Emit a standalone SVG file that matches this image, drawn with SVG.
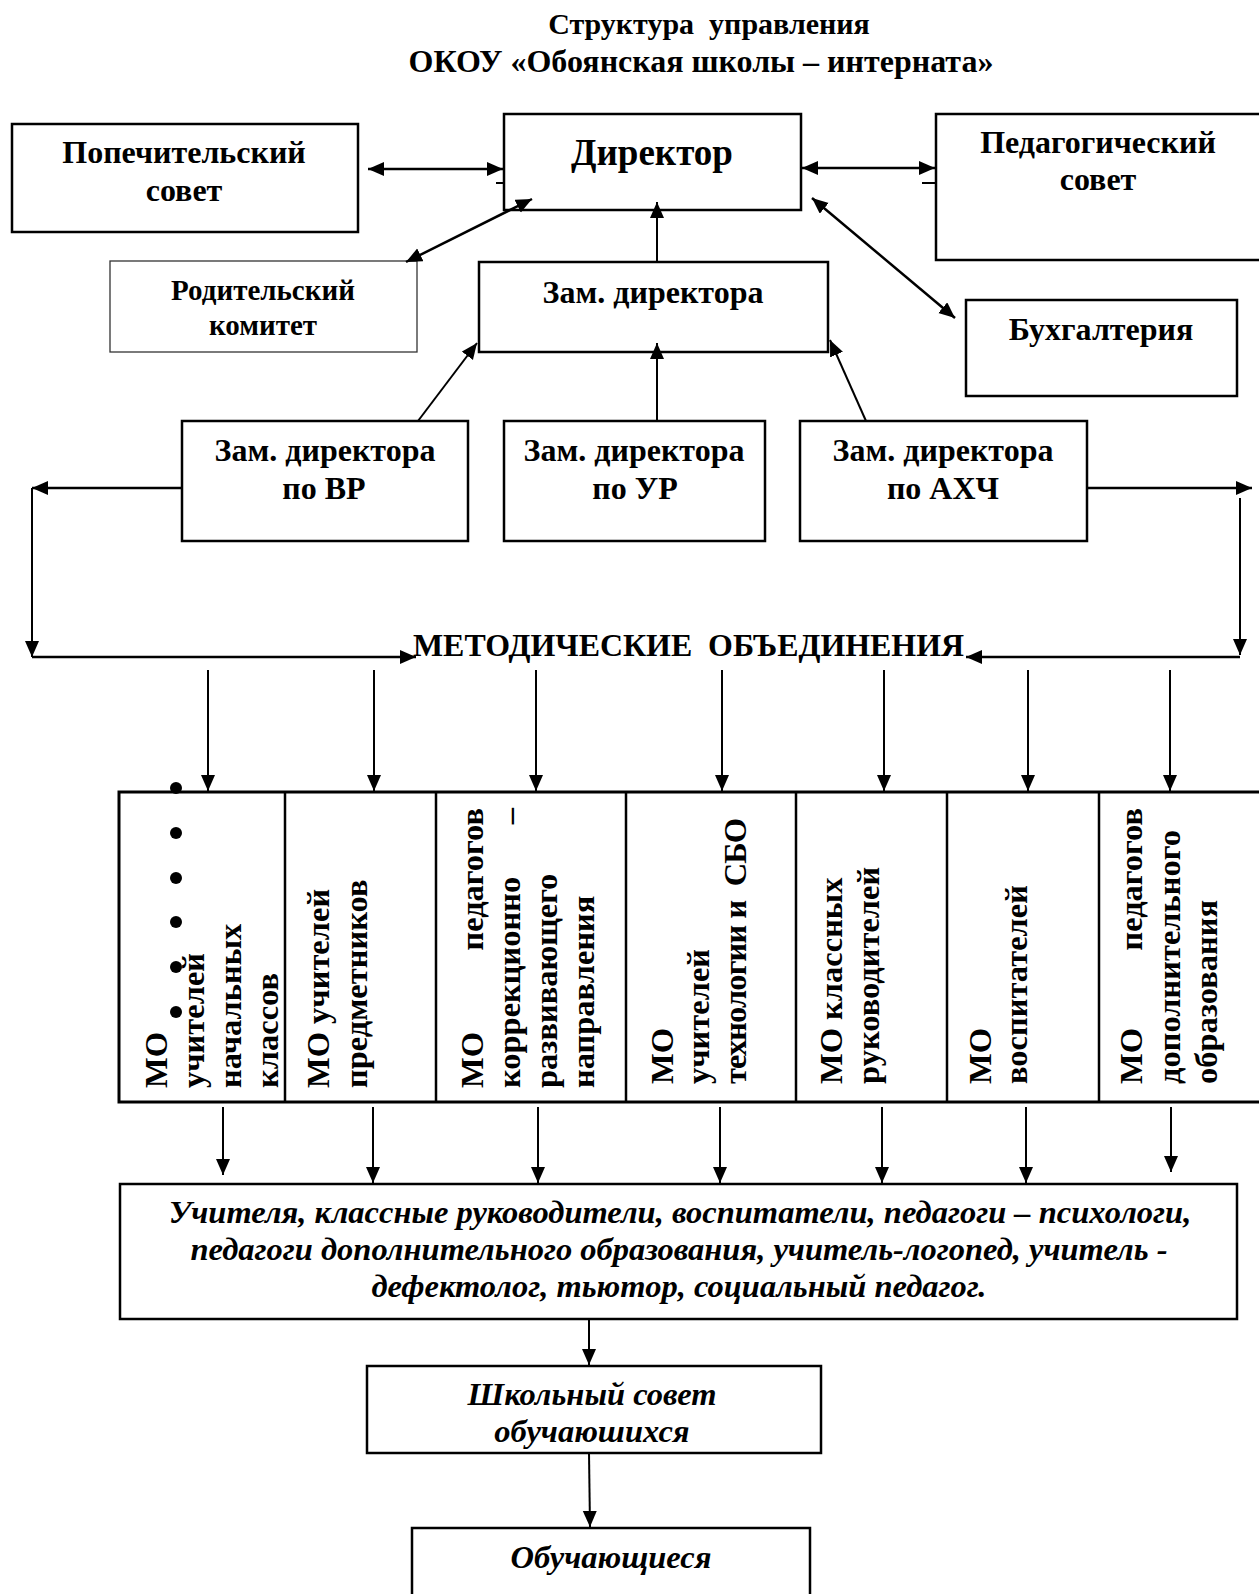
<svg xmlns="http://www.w3.org/2000/svg" width="1259" height="1594" viewBox="0 0 1259 1594">
<style>
.box{fill:#fff;stroke:#000;stroke-width:2.5}
.thin{fill:#fff;stroke:#333;stroke-width:1.3}
.t{font-family:"Liberation Serif","Times New Roman",serif;font-weight:bold;font-size:32px;fill:#000;text-anchor:middle}
.ti{font-family:"Liberation Serif","Times New Roman",serif;font-weight:bold;font-style:italic;font-size:32.5px;fill:#000;text-anchor:middle}
.mo{font-family:"Liberation Serif","Times New Roman",serif;font-weight:bold;font-size:32.5px;fill:#000}
.end{text-anchor:end}
.pre{white-space:pre}
.c{fill:none;stroke:#000;stroke-width:2.5}
.c2{fill:none;stroke:#000;stroke-width:2}
.a{marker-end:url(#ah)}
.aa{marker-start:url(#ah);marker-end:url(#ah)}
</style>
<defs>
<marker id="ah" markerUnits="userSpaceOnUse" markerWidth="17" markerHeight="15" refX="16" refY="7" orient="auto-start-reverse" viewBox="0 0 17 15">
<path d="M0,0 L16,7 L0,14 z" fill="#000"/>
</marker>
</defs>
<rect width="1259" height="1594" fill="#fff"/>

<g id="title">
<text class="t pre" xml:space="preserve" x="709" y="34" style="font-size:30px">Структура  управления</text>
<text class="t" x="701" y="72">ОКОУ «Обоянская школы – интерната»</text>
</g>

<g id="popechitelsky">
<rect class="box" x="12" y="124" width="346" height="108"/>
<text class="t" x="184" y="163">Попечительский</text>
<text class="t" x="184" y="201">совет</text>
</g>

<g id="direktor">
<rect class="box" x="504" y="114" width="297" height="96"/>
<text class="t" x="652" y="165" style="font-size:37px">Директор</text>
</g>

<g id="pedsovet">
<rect class="box" x="936" y="114" width="330" height="146"/>
<text class="t" x="1098" y="153">Педагогический</text>
<text class="t" x="1098" y="190">совет</text>
</g>

<g id="roditelsky">
<rect class="thin" x="110" y="261" width="307" height="91"/>
<text class="t" x="263" y="300" style="font-size:29px">Родительский</text>
<text class="t" x="263" y="335" style="font-size:29px">комитет</text>
</g>

<g id="zam">
<rect class="box" x="479" y="262" width="349" height="90"/>
<text class="t" x="653" y="303">Зам. директора</text>
</g>

<g id="buh">
<rect class="box" x="966" y="300" width="271" height="96"/>
<text class="t" x="1101" y="340">Бухгалтерия</text>
</g>

<g id="zam-vr">
<rect class="box" x="182" y="421" width="286" height="120"/>
<text class="t" x="325" y="461">Зам. директора</text>
<text class="t" x="324" y="499">по ВР</text>
</g>

<g id="zam-ur">
<rect class="box" x="504" y="421" width="261" height="120"/>
<text class="t" x="634" y="461">Зам. директора</text>
<text class="t" x="635" y="499">по УР</text>
</g>

<g id="zam-ahch">
<rect class="box" x="800" y="421" width="287" height="120"/>
<text class="t" x="943" y="461">Зам. директора</text>
<text class="t" x="943" y="499">по АХЧ</text>
</g>

<g id="mo-label">
<text class="t pre" xml:space="preserve" x="413" y="656" style="text-anchor:start" textLength="551" lengthAdjust="spacingAndGlyphs">МЕТОДИЧЕСКИЕ  ОБЪЕДИНЕНИЯ</text>
</g>

<g id="mo-table">
<rect x="119" y="792" width="1145" height="310" fill="#fff" stroke="#000" stroke-width="3"/>
<g stroke="#000" stroke-width="2.5">
<line x1="285" y1="792" x2="285" y2="1102"/>
<line x1="436" y1="792" x2="436" y2="1102"/>
<line x1="626" y1="792" x2="626" y2="1102"/>
<line x1="796" y1="792" x2="796" y2="1102"/>
<line x1="947" y1="792" x2="947" y2="1102"/>
<line x1="1099" y1="792" x2="1099" y2="1102"/>
</g>
</g>

<g id="mo1">
<text class="mo" transform="translate(167,1088) rotate(-90)">МО</text>
<text class="mo" transform="translate(204,1088) rotate(-90)">учителей</text>
<text class="mo" transform="translate(241,1088) rotate(-90)">начальных</text>
<text class="mo" transform="translate(278,1088) rotate(-90)">классов</text>
<g fill="#000">
<circle cx="176" cy="788" r="6"/>
<circle cx="176" cy="833" r="6"/>
<circle cx="176" cy="878" r="6"/>
<circle cx="176" cy="922" r="6"/>
<circle cx="176" cy="967" r="6"/>
<circle cx="176" cy="1012" r="6"/>
</g>
</g>

<g id="mo2">
<text class="mo" transform="translate(329,1088) rotate(-90)">МО учителей</text>
<text class="mo" transform="translate(367,1088) rotate(-90)">предметников</text>
</g>

<g id="mo3">
<text class="mo" transform="translate(483,1088) rotate(-90)">МО</text>
<text class="mo end" transform="translate(483,808) rotate(-90)">педагогов</text>
<text class="mo" transform="translate(520,1088) rotate(-90)">коррекционно</text>
<text class="mo end" transform="translate(520,808) rotate(-90)">–</text>
<text class="mo" transform="translate(557,1088) rotate(-90)">развивающего</text>
<text class="mo" transform="translate(594,1088) rotate(-90)">направления</text>
</g>

<g id="mo4">
<text class="mo" transform="translate(673,1084) rotate(-90)">МО</text>
<text class="mo" transform="translate(709,1084) rotate(-90)">учителей</text>
<text class="mo pre" xml:space="preserve" transform="translate(746,1084) rotate(-90)" textLength="266" lengthAdjust="spacing">технологии и  СБО</text>
</g>

<g id="mo5">
<text class="mo" transform="translate(842,1084) rotate(-90)">МО классных</text>
<text class="mo" transform="translate(879,1084) rotate(-90)">руководителей</text>
</g>

<g id="mo6">
<text class="mo" transform="translate(991,1084) rotate(-90)">МО</text>
<text class="mo" transform="translate(1027,1084) rotate(-90)">воспитателей</text>
</g>

<g id="mo7">
<text class="mo" transform="translate(1142,1084) rotate(-90)">МО</text>
<text class="mo end" transform="translate(1142,808) rotate(-90)">педагогов</text>
<text class="mo" transform="translate(1180,1084) rotate(-90)">дополнительного</text>
<text class="mo" transform="translate(1217,1084) rotate(-90)">образования</text>
</g>

<g id="teachers">
<rect class="box" x="120" y="1184" width="1117" height="135"/>
<text class="ti" x="680" y="1223">Учителя, классные руководители, воспитатели, педагоги – психологи,</text>
<text class="ti" x="679" y="1260">педагоги дополнительного образования, учитель-логопед, учитель -</text>
<text class="ti" x="679" y="1297">дефектолог, тьютор, социальный педагог.</text>
</g>

<g id="sovet-uch">
<rect class="box" x="367" y="1366" width="454" height="87"/>
<text class="ti" x="592" y="1405">Школьный совет</text>
<text class="ti" x="592" y="1442">обучаюшихся</text>
</g>

<g id="obuch">
<rect class="box" x="412" y="1528" width="398" height="80"/>
<text class="ti" x="611" y="1568">Обучающиеся</text>
</g>

<g id="connectors">
<line class="c aa" x1="368" y1="169" x2="503" y2="169"/>
<line class="c2" x1="496" y1="183" x2="504" y2="183"/>
<line class="c aa" x1="802" y1="168" x2="935" y2="168"/>
<line class="c2" x1="922" y1="183" x2="936" y2="183"/>
<line class="c aa" x1="406" y1="262" x2="532" y2="199"/>
<line class="c aa" x1="812" y1="198" x2="955" y2="318"/>
<line class="c2 a" x1="657" y1="262" x2="657" y2="202"/>
<line class="c2 a" x1="418" y1="421" x2="477" y2="343"/>
<line class="c2 a" x1="657" y1="421" x2="657" y2="343"/>
<line class="c2 a" x1="866" y1="421" x2="830" y2="340"/>
<line class="c a" x1="182" y1="488" x2="32" y2="488"/>
<line class="c2 a" x1="32" y1="488" x2="32" y2="657"/>
<line class="c a" x1="32" y1="657" x2="416" y2="657"/>
<line class="c a" x1="1087" y1="488" x2="1252" y2="488"/>
<line class="c2 a" x1="1240" y1="498" x2="1240" y2="655"/>
<line class="c a" x1="1240" y1="657" x2="966" y2="657"/>
<line class="c2 a" x1="208" y1="670" x2="208" y2="791"/>
<line class="c2 a" x1="374" y1="670" x2="374" y2="791"/>
<line class="c2 a" x1="536" y1="670" x2="536" y2="791"/>
<line class="c2 a" x1="722" y1="670" x2="722" y2="791"/>
<line class="c2 a" x1="884" y1="670" x2="884" y2="791"/>
<line class="c2 a" x1="1028" y1="670" x2="1028" y2="791"/>
<line class="c2 a" x1="1170" y1="670" x2="1170" y2="791"/>
<line class="c2 a" x1="223" y1="1107" x2="223" y2="1175"/>
<line class="c2 a" x1="373" y1="1107" x2="373" y2="1183"/>
<line class="c2 a" x1="538" y1="1107" x2="538" y2="1183"/>
<line class="c2 a" x1="720" y1="1107" x2="720" y2="1183"/>
<line class="c2 a" x1="882" y1="1107" x2="882" y2="1183"/>
<line class="c2 a" x1="1026" y1="1107" x2="1026" y2="1183"/>
<line class="c2 a" x1="1171" y1="1107" x2="1171" y2="1172"/>
<line class="c2 a" x1="589" y1="1319" x2="589" y2="1365"/>
<line class="c2 a" x1="589" y1="1453" x2="590" y2="1527"/>
</g>
</svg>
